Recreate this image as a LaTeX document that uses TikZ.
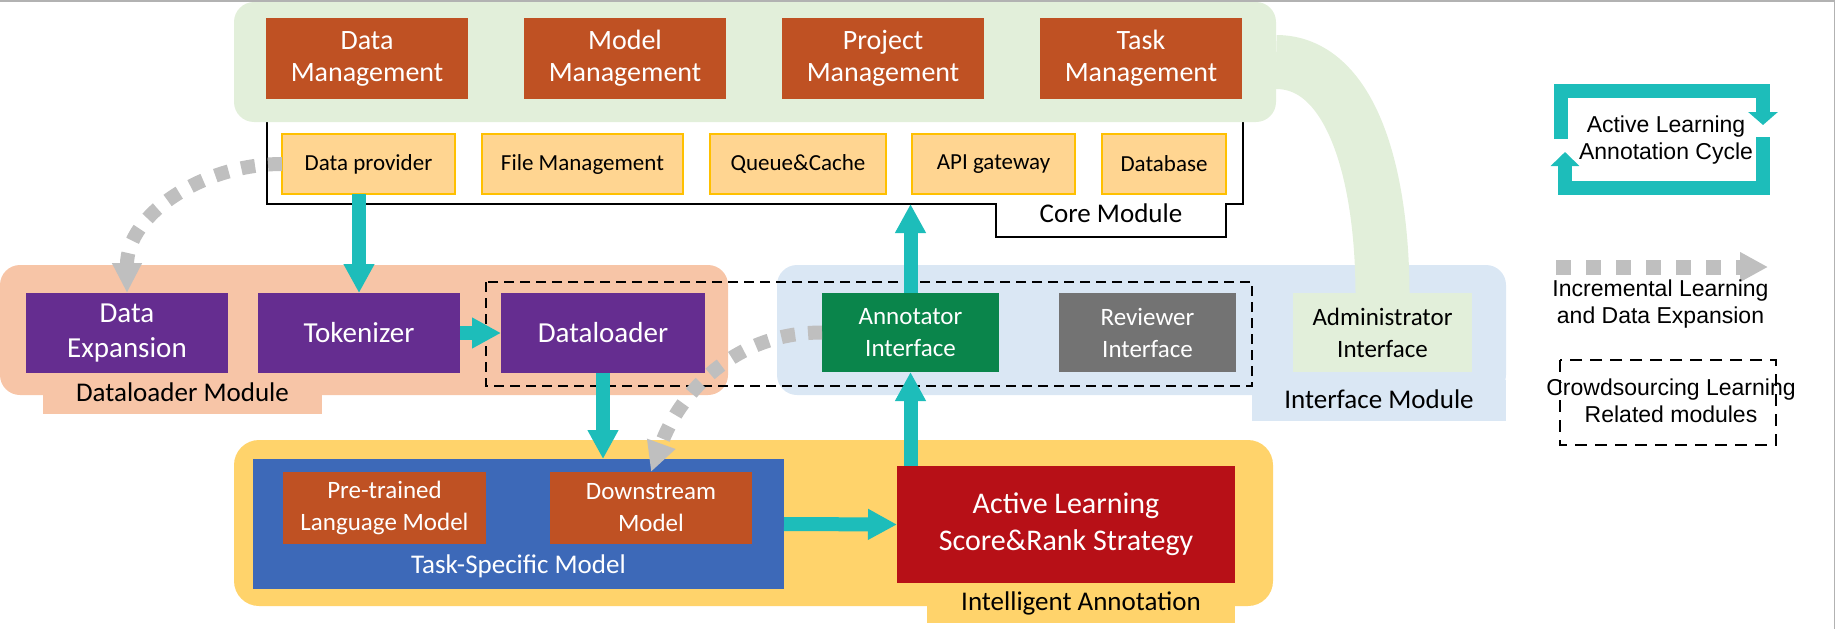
\documentclass[tikz,border=0pt]{standalone}
\usepackage{fontspec}
\setmainfont{Carlito}
\newfontfamily\legendfont{Liberation Sans}
\usetikzlibrary{positioning,arrows.meta}

\definecolor{mgmtgreen}{HTML}{E2EFDA}
\definecolor{mgmtred}{HTML}{BF5123}
\definecolor{corefill}{HTML}{FFD591}
\definecolor{coreedge}{HTML}{FFC000}
\definecolor{loaderpeach}{HTML}{F7C5A7}
\definecolor{loaderpurple}{HTML}{652D90}
\definecolor{uiblue}{HTML}{DAE7F4}
\definecolor{annogreen}{HTML}{0A854B}
\definecolor{revgrey}{HTML}{737373}
\definecolor{intyellow}{HTML}{FFD36B}
\definecolor{taskblue}{HTML}{3D69B8}
\definecolor{alred}{HTML}{B71017}
\definecolor{flowteal}{HTML}{1DBDBA}
\definecolor{incgrey}{HTML}{BFBFBF}

\tikzset{
  box/.style={rectangle, inner sep=0pt, outer sep=0pt, align=center},
  mgmt/.style={box, fill=mgmtred, text=white, minimum width=202pt, minimum height=81pt, font=\fontsize{28}{32}\selectfont},
  core/.style={box, fill=corefill, draw=coreedge, line width=1.5pt, minimum height=60pt, font=\fontsize{23}{27}\selectfont},
  loader/.style={box, fill=loaderpurple, text=white, minimum width=202pt, minimum height=80pt, font=\fontsize{29}{35}\selectfont},
  ui/.style={box, minimum width=177pt, minimum height=79pt, font=\fontsize{25}{32}\selectfont},
  model/.style={box, fill=mgmtred, text=white, minimum width=202pt, minimum height=72pt, font=\fontsize{25}{32}\selectfont},
  panel/.style={box, rounded corners=20pt},
  modlabel/.style={font=\fontsize{27}{32}\selectfont, anchor=base, inner sep=0pt},
  legendtext/.style={font=\legendfont\fontsize{23}{27}\selectfont, align=center, inner sep=0pt},
  flow/.style={draw=flowteal, line width=14pt, -{Triangle[length=29pt,width=29pt]}},
  incr/.style={draw=incgrey, line width=14pt, dash pattern=on 14pt off 13pt, -{Triangle[length=30pt,width=28pt]}},
  crowd/.style={draw=black, line width=2pt, dash pattern=on 10pt off 6pt},
}

\begin{document}
\begin{tikzpicture}[x=1pt, y=-1pt]
\useasboundingbox (0,0) rectangle (1835,629);

% frame
\draw[gray!60, line width=1.5pt] (0,0.75) -- (1834.25,0.75) -- (1834.25,629);

% core module
\draw[line width=2pt] (267,110) -- (267,204) -- (996,204) -- (996,237) -- (1226,237) -- (1226,204) -- (1243,204) -- (1243,110);
\node[panel, fill=mgmtgreen, minimum width=1042pt, minimum height=120pt] (mgmtpanel) at (755,62) {};

\node[mgmt] (dm) at (367,58.5) {Data\\Management};
\node[mgmt, right=56pt of dm] (mm) {Model\\Management};
\node[mgmt, right=56pt of mm] (pm) {Project\\Management};
\node[mgmt, right=56pt of pm] (tm) {Task\\Management};

\node[core, minimum width=173pt] (dp) at (368.5,164) {Data provider};
\node[core, minimum width=201pt, right=27pt of dp] (fm) {File Management};
\node[core, minimum width=176pt, right=27pt of fm] (qc) {Queue\&Cache};
\node[core, minimum width=163pt, right=26pt of qc] (api) {API gateway};
\node[core, minimum width=124pt, right=27pt of api] (db) {Database};
\node[modlabel] (corelabel) at (1111,222) {Core Module};
\coordinate (corebase) at (267,204);

% dataloader module
\node[panel, fill=loaderpeach, minimum width=728pt, minimum height=130pt] (loaderpanel) at (364,330) {};
\fill[loaderpeach] (43,380) rectangle (322,414);
\node[loader] (de) at (127,333) {Data\\Expansion};
\node[loader, right=30pt of de] (tok) {Tokenizer};
\node[loader, minimum width=204pt, right=41pt of tok] (dl) {Dataloader};
\node[modlabel] (loaderlabel) at (182.5,401) {Dataloader Module};

% interface module
\node[panel, fill=uiblue, minimum width=729pt, minimum height=130pt] (uipanel) at (1141.5,330) {};
\fill[uiblue] (1252,380) rectangle (1506,421);
\node[ui, fill=annogreen, text=white] (an) at (910.5,332.5) {Annotator\\Interface};
\node[ui, fill=revgrey, text=white, right=60pt of an] (rv) {Reviewer\\Interface};
\node[ui, fill=mgmtgreen, minimum width=179pt, right=57pt of rv] (adm) {Administrator\\Interface};
\node[modlabel] (uilabel) at (1379,408) {Interface Module};
\draw[mgmtgreen, line width=54pt] (mgmtpanel.east) .. controls (1350,62) and (1382,170) .. (adm.north);

% crowdsourcing
\draw[crowd] (486,282) rectangle (1252,386);

% intelligent annotation
\node[panel, rounded corners=25pt, fill=intyellow, minimum width=1039pt, minimum height=166pt] (intpanel) at (753.5,523) {};
\fill[intyellow] (927,590) rectangle (1235,623);
\node[box, fill=taskblue, minimum width=531pt, minimum height=130pt] (ts) at (518.5,524) {};
\node[model, minimum width=203pt] (ptm) at (384.5,508) {Pre-trained\\Language Model};
\node[model, right=64pt of ptm] (ds) {Downstream\\Model};
\node[modlabel, text=white] (tslabel) at (518.5,573) {Task-Specific Model};
\node[box, fill=alred, text=white, minimum width=338pt, minimum height=117pt, font=\fontsize{30}{37}\selectfont] (al) at (1066,524.5) {Active Learning\\Score\&Rank Strategy};
\node[modlabel] (intlabel) at (1081,610) {Intelligent Annotation};

% flows
\draw[flow] (tok.north |- dp.south) -- (tok.north);
\draw[flow] (tok.east) -- (dl.west);
\draw[flow] (dl.south) -- (dl.south |- ts.north);
\draw[flow] (ts.east) -- (al.west);
\draw[flow] (an.south |- al.north) -- (an.south);
\draw[flow] (an.north) -- (an.north |- corebase);

\draw[incr] (dp.west) to[out=180, in=90] (de.north);
\draw[incr] (an.west) to[out=180, in=70] (ds.north);

% legend
\draw[flowteal, line width=14pt, line join=miter, -{Triangle[length=13pt,width=29pt]}] (1561,139) -- (1561,91) -- (1763,91) -- (1763,125);
\draw[flowteal, line width=14pt, line join=miter, -{Triangle[length=14pt,width=28pt]}] (1763,137) -- (1763,188) -- (1565,188) -- (1565,152);
\node[legendtext] (cyclelabel) at (1666,140.5) {Active Learning\\Annotation Cycle};

\draw[incr, line width=15pt, dash pattern=on 15pt off 15pt, -{Triangle[length=28pt,width=28pt]}] (1556,267) -- (1768,267);
\node[legendtext] (incrlabel) at (1660.5,304.5) {Incremental Learning\\and Data Expansion};

\draw[black, line width=1.5pt, dash pattern=on 12pt off 8pt] (1560,360) rectangle (1776,445);
\node[legendtext] (crowdlabel) at (1671,400.5) {Crowdsourcing Learning\\Related modules};
\end{tikzpicture}
\end{document}
